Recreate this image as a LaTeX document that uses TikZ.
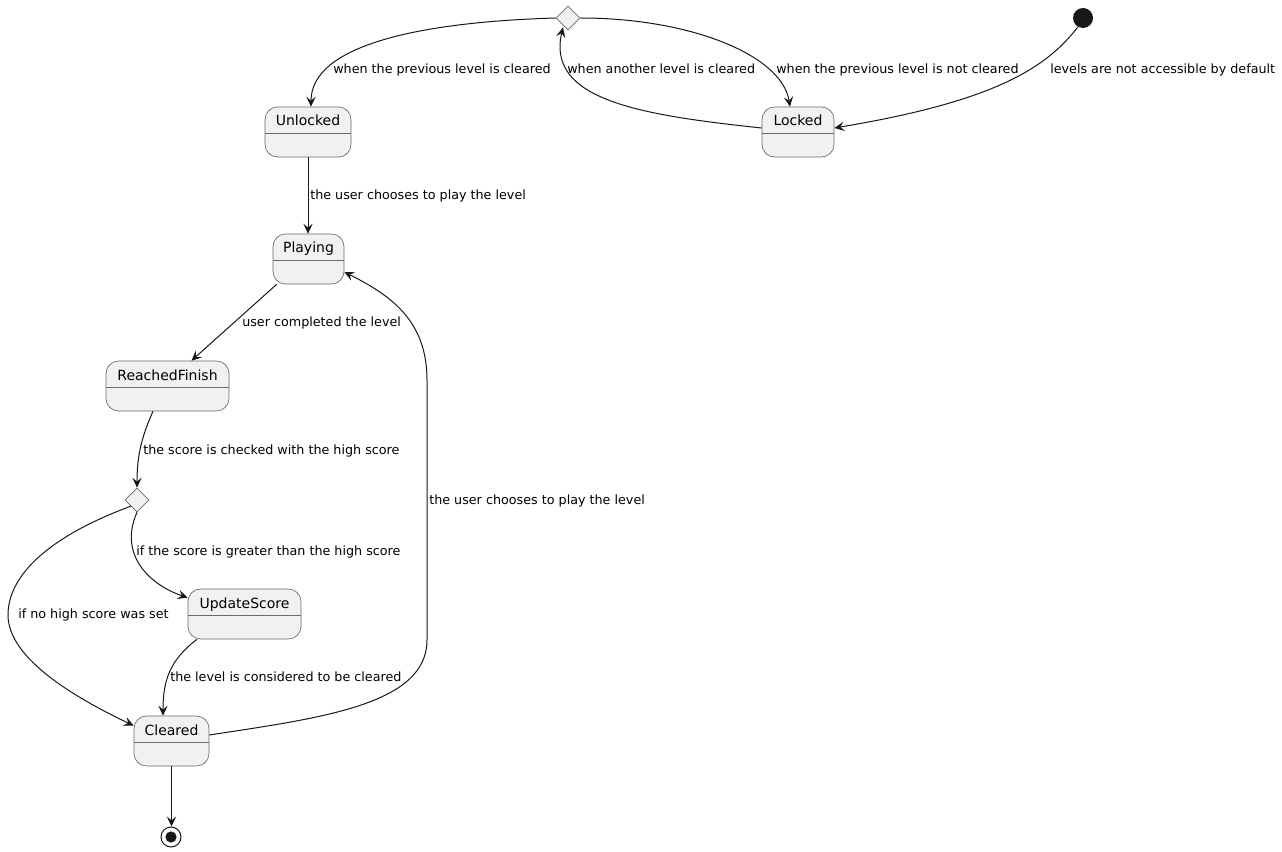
\documentclass[tikz,border=0pt]{standalone}
\usepackage{fontspec}
\setmainfont{DejaVu Sans}
\usetikzlibrary{shapes.geometric,arrows.meta,calc}
\definecolor{stfill}{HTML}{F1F1F1}
\definecolor{ink}{HTML}{181818}
\definecolor{rim}{HTML}{6A6A6A}
\begin{document}
\begin{tikzpicture}[x=0.75pt,y=-0.75pt,
  state/.style={draw=rim, line width=0.5pt, fill=stfill, rounded corners=9.4pt,
    inner xsep=0pt, inner ysep=0pt, minimum height=37.5pt,
    text height=14.25pt, text depth=23.25pt,
    font=\fontsize{10.5}{12}\selectfont, text=black,
    path picture={\draw[rim, line width=0.5pt]
      ([yshift=-19.5pt]path picture bounding box.north west) --
      ([yshift=-19.5pt]path picture bounding box.north east);}},
  choice/.style={diamond, draw=rim, line width=0.5pt, fill=stfill,
    minimum size=18pt, inner sep=0pt},
  initst/.style={circle, fill=ink, minimum size=15pt, inner sep=0pt},
  finst/.style={circle, draw=ink, line width=0.75pt, fill=white,
    minimum size=15pt, inner sep=0pt,
    path picture={\fill[ink] (path picture bounding box.center) circle (4.2pt);}},
  tr/.style={draw=ink, line width=0.75pt,
    -{Stealth[length=7.5pt,width=7pt,inset=3pt]}},
  lbl/.style={anchor=base west, inner sep=0pt,
    font=\fontsize{9.55}{11}\selectfont, text=black}
]
\fill[white] (0,0) rectangle (1282,852);
\useasboundingbox (0,0) rectangle (1282,852);

% states
\node[choice] (dtop) at (568,18) {};
\node[initst] (init) at (1083,18) {};
\node[state, minimum width=64.5pt] (unl) at (308,132) {Unlocked};
\node[state, minimum width=54pt] (lck) at (798,132) {Locked};
\node[state, minimum width=53.25pt] (ply) at (308.5,259) {Playing};
\node[state, minimum width=92.25pt] (rf) at (167.5,386) {ReachedFinish};
\node[choice] (dsc) at (137,500) {};
\node[state, minimum width=84.75pt] (us) at (244.5,614) {UpdateScore};
\node[state, minimum width=56.25pt] (clr) at (171.5,741) {Cleared};
\node[finst] (fin) at (171,837) {};

% transitions
\draw[tr] (dtop.west) .. controls (420,22) and (311,45) .. ($(unl.north)+(3,0)$);
\draw[tr] (dtop.east) .. controls (690,18) and (782,55) .. ($(lck.north)+(-8,0)$);
\draw[tr] ($(lck.west)+(0,-4)$) .. controls (640,115) and (546,100) .. ($(dtop.south)+(-5,-3)$);
\draw[tr] (init.240) .. controls (1045,70) and (990,102) .. ($(lck.east)+(0,-4)$);
\draw[tr] (unl.south) -- (unl.south |- ply.north);
\draw[tr] ($(ply.south west)+(4,0)$) -- ($(rf.north)+(24,0)$);
\draw[tr] ($(rf.south)+(-14.5,0)$) .. controls (140,440) and (137,460) .. (dsc.north);
\draw[tr] (dsc.south) .. controls (118,555) and (150,585) .. ($(us.north west)+(0,9)$);
\draw[tr] (dsc.south west) .. controls (40,540) and (8,580) .. (8,615)
  .. controls (8,660) and (80,700) .. ($(clr.north west)+(0,10)$);
\draw[tr] ($(us.south)+(-47.5,0)$) .. controls (170,660) and (163,680) .. ($(clr.north)+(-8.5,0)$);
\draw[tr] ($(clr.east)+(0,-6)$) .. controls (320,718) and (427,705) .. (427,640)
  -- (427,380) .. controls (427,320) and (390,295) .. ($(ply.east)+(0,13)$);
\draw[tr] (clr.south) -- (clr.south |- fin.north);

% transition labels
\node[lbl] (l1) at (333,73.5) {when the previous level is cleared};
\node[lbl] (l2) at (567,73.5) {when another level is cleared};
\node[lbl] (l3) at (776,73.5) {when the previous level is not cleared};
\node[lbl] (l4) at (1050,73.5) {levels are not accessible by default};
\node[lbl] (l5) at (310,199.5) {the user chooses to play the level};
\node[lbl] (l6) at (242,326.5) {user completed the level};
\node[lbl] (l7) at (143,454.5) {the score is checked with the high score};
\node[lbl] (l8) at (136,555) {if the score is greater than the high score};
\node[lbl] (l9) at (18,618.5) {if no high score was set};
\node[lbl] (l10) at (170,681.5) {the level is considered to be cleared};
\node[lbl] (l11) at (429,504.5) {the user chooses to play the level};
\end{tikzpicture}
\end{document}
